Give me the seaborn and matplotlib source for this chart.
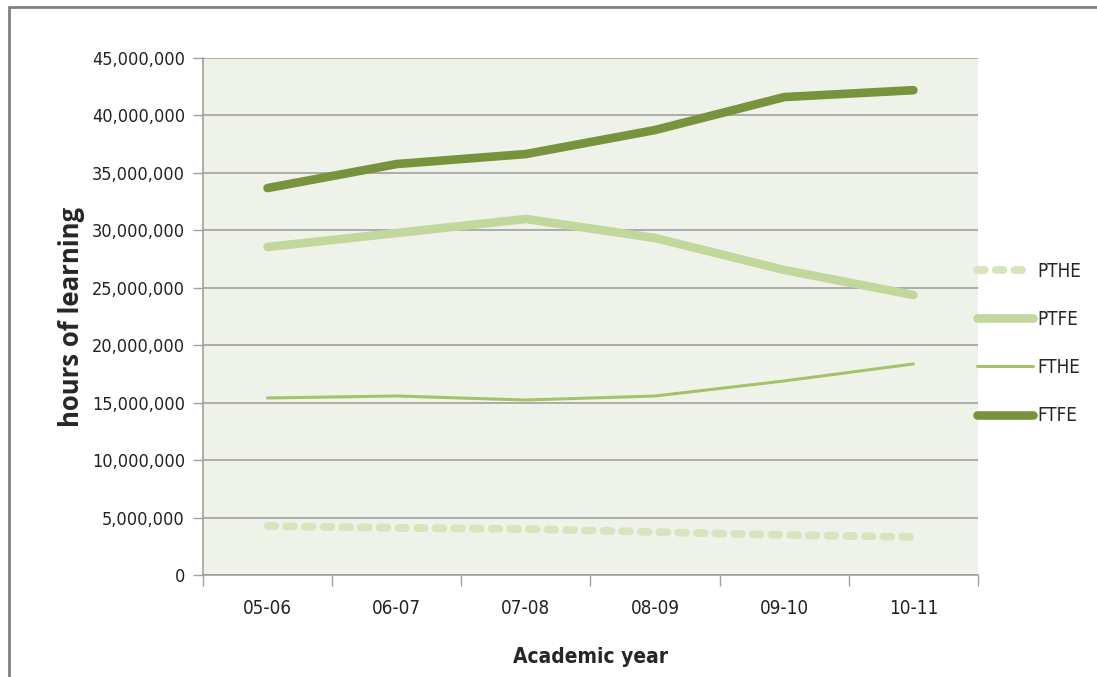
import pandas as pd
import matplotlib.pyplot as plt
import seaborn as sns
from matplotlib.ticker import FuncFormatter, FixedLocator
from matplotlib.lines import Line2D

years = ["05-06", "06-07", "07-08", "08-09", "09-10", "10-11"]
pthe = [4260000, 4100000, 4000000, 3740000, 3480000, 3310000]
ptfe = [28550000, 29770000, 30990000, 29330000, 26550000, 24370000]
fthe = [15410000, 15580000, 15230000, 15580000, 16890000, 18370000]
ftfe = [33680000, 35770000, 36640000, 38730000, 41600000, 42200000]

series = ["PTHE", "PTFE", "FTHE", "FTFE"]
values = [pthe, ptfe, fthe, ftfe]


def main():
    rows = []
    for name, vals in zip(series, values):
        for i, (yr, v) in enumerate(zip(years, vals)):
            rows.append({"series": name, "pos": i, "year": yr, "hours": v})
    df = pd.DataFrame(rows)

    sns.set_style("white")
    plt.rcParams["font.family"] = ["DejaVu Sans"]
    plt.rcParams["font.stretch"] = "condensed"

    fig = plt.figure(figsize=(10.97, 6.77), dpi=100)
    ax = fig.add_axes([0.185, 0.1507, 0.7065, 0.7636])
    ax.set_facecolor("#eff2e9")

    styles = {
        "PTHE": dict(color="#d7e4bd", linewidth=5.6, linestyle=(0, (1.0, 1.4)),
                     dash_capstyle="round"),
        "PTFE": dict(color="#c3d69b", linewidth=6.2, solid_capstyle="round"),
        "FTHE": dict(color="#a5c26a", linewidth=2.2, solid_capstyle="round"),
        "FTFE": dict(color="#77933c", linewidth=6.2, solid_capstyle="round"),
    }
    for name in series:
        sub = df[df["series"] == name]
        sns.lineplot(data=sub, x="pos", y="hours", ax=ax, label=name,
                     **styles[name])

    ax.set_xlim(-0.5, 5.5)
    ax.set_ylim(0, 45000000)
    ax.set_yticks(range(0, 45000001, 5000000))
    ax.yaxis.set_major_formatter(FuncFormatter(lambda v, p: f"{int(v):,}"))
    ax.grid(axis="y", color="#a0a0a0", linewidth=1.2)
    ax.set_axisbelow(True)

    # category labels centred, tick marks between categories
    ax.set_xticks(range(len(years)))
    ax.set_xticklabels(years)
    ax.xaxis.set_minor_locator(FixedLocator([i - 0.5 for i in range(len(years) + 1)]))
    ax.tick_params(axis="x", which="major", length=0, pad=17, labelsize=13.5,
                   labelcolor="#222222")
    ax.tick_params(axis="x", which="minor", length=8, color="#a0a0a0", width=1)
    ax.tick_params(axis="y", length=7, color="#a0a0a0", width=1, pad=6,
                   labelsize=13, labelcolor="#222222")
    ax.tick_params(left=True, bottom=True, which="both")

    for side in ["top", "right"]:
        ax.spines[side].set_visible(False)
    for side in ["left", "bottom"]:
        ax.spines[side].set_color("#a0a0a0")
        ax.spines[side].set_linewidth(1.2)

    ax.set_xlabel("Academic year", fontsize=15, fontweight="bold", labelpad=21)
    ax.set_ylabel("hours of learning", fontsize=18.5, fontweight="bold",
                  family=["Open Sans", "DejaVu Sans"], stretch="normal", labelpad=5)

    ax.legend(loc="center left", bbox_to_anchor=(0.884, 0.4926),
              bbox_transform=fig.transFigure, frameon=False, fontsize=13.5,
              handlelength=3.0, handletextpad=0.2, labelspacing=1.55,
              borderaxespad=0)

    # outer chart border
    fig.add_artist(Line2D([0.008, 0.008], [0.0, 0.99], transform=fig.transFigure,
                          color="#808080", linewidth=2))
    fig.add_artist(Line2D([0.008, 1.0], [0.99, 0.99], transform=fig.transFigure,
                          color="#808080", linewidth=2))

    fig.savefig("out.png", dpi=100)


if __name__ == "__main__":
    main()
